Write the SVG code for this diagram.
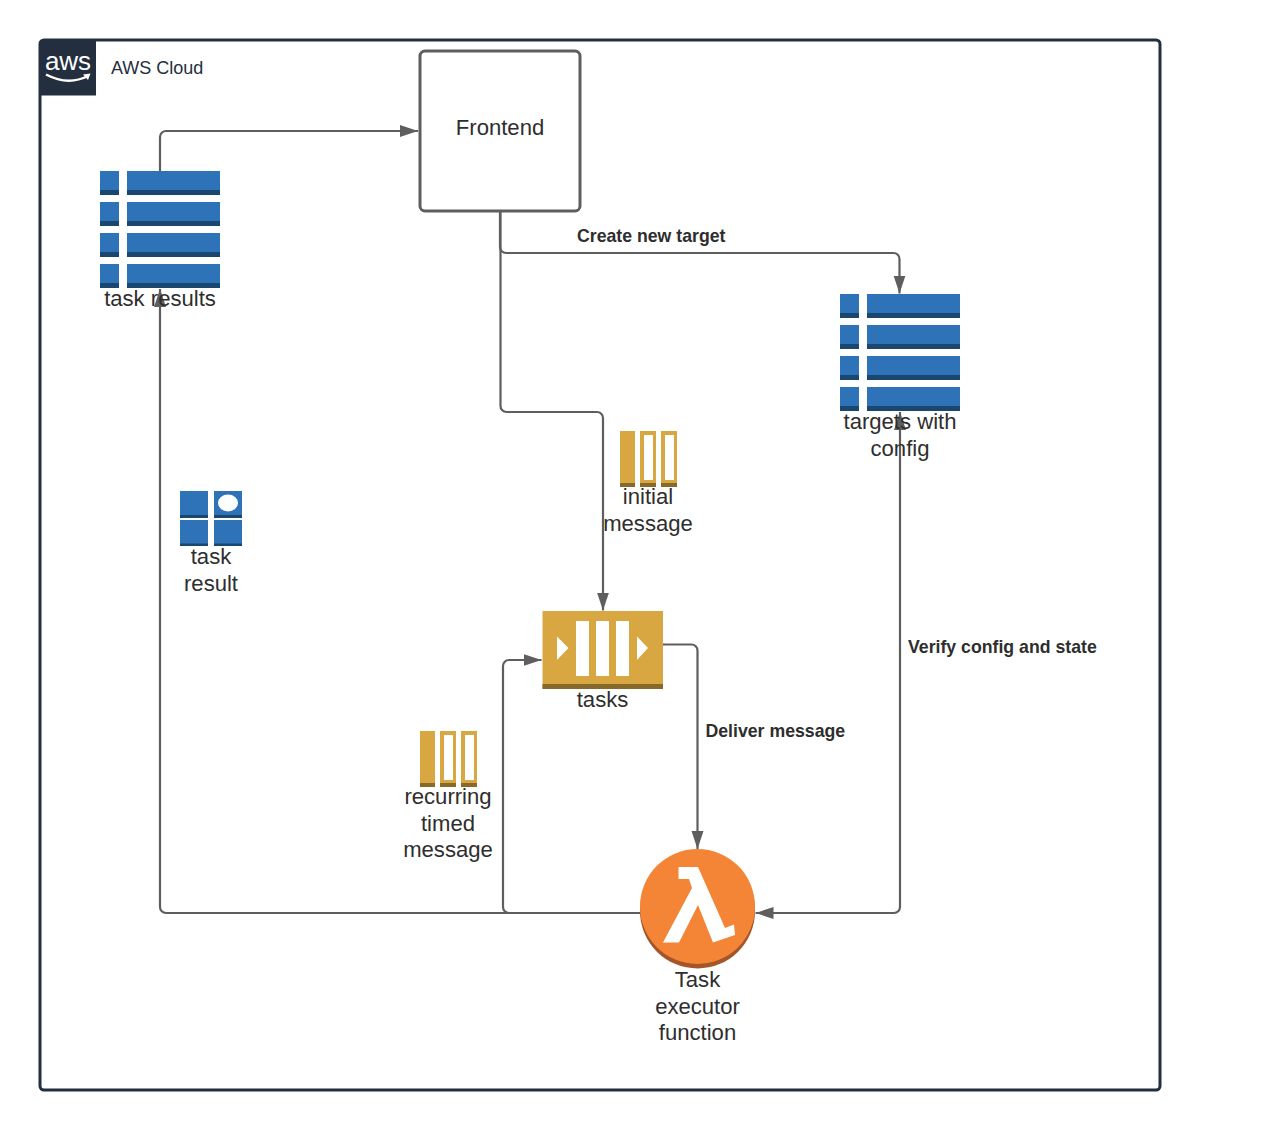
<svg xmlns="http://www.w3.org/2000/svg" xmlns:xlink="http://www.w3.org/1999/xlink" width="1271" height="1132" viewBox="0 0 1271 1132">
<style>
text{font-family:"Liberation Sans",Arial,sans-serif;fill:#2e2e2e}
.lbl{font-size:22.100px;text-anchor:middle}
.edge{font-size:17.700px;font-weight:700}
.conn{fill:none;stroke:#5e5e5e;stroke-width:2.200}
.blue{fill:#2e73b8}.dk{fill:#1a476f}
.gold{fill:#d9a741}.gdk{fill:#876929}
</style>
<defs>
<marker id="arr" markerUnits="userSpaceOnUse" markerWidth="20" markerHeight="14" refX="18" refY="7" orient="auto-start-reverse"><path d="M0 1L18 7L0 13L0 7Z" fill="#5e5e5e"/></marker>
<g id="row"><rect class="blue" width="19" height="24"/><rect class="dk" y="19" width="19" height="5"/><rect class="blue" x="27" width="93" height="24"/><rect class="dk" x="27" y="19" width="93" height="5"/></g>
<g id="table"><use href="#row"/><use href="#row" y="31"/><use href="#row" y="62"/><use href="#row" y="93"/></g>
<g id="msg"><rect class="gold" width="15" height="56"/><rect class="gdk" y="52" width="15" height="4"/>
<rect class="gold" x="20" width="16" height="56"/><rect x="24" y="4" width="9" height="45" fill="#fff"/><rect class="gdk" x="20" y="52" width="16" height="4"/>
<rect class="gold" x="41" width="16" height="56"/><rect x="45" y="4" width="9" height="45" fill="#fff"/><rect class="gdk" x="41" y="52" width="16" height="4"/></g>
</defs>
<rect width="1271" height="1132" fill="#fff"/>
<g id="aws-cloud">
<rect x="40" y="40" width="1120" height="1050" rx="4" fill="#fff" stroke="#232f3e" stroke-width="3"/>
<path d="M41 44a4 4 0 0 1 3-4H96V95.500H41Z" fill="#232f3e"/>
<text x="68" y="70" font-size="26" text-anchor="middle" style="fill:#fff">aws</text>
<path d="M46 74.500Q68 86 88 76" fill="none" stroke="#fff" stroke-width="2.500"/>
<path d="M83 74.500L90.500 73.500L88 80Z" fill="#fff"/>
<text x="111" y="74" font-size="18" style="fill:#232f3e">AWS Cloud</text>
</g>
<g id="task-results"><use href="#table" x="100" y="171"/></g>
<g id="targets"><use href="#table" x="840" y="294"/></g>
<g id="task-result">
<rect class="blue" x="180" y="491" width="28" height="27"/><rect class="dk" x="180" y="515" width="28" height="3"/>
<rect class="blue" x="214" y="491" width="28" height="27"/><rect class="dk" x="214" y="515" width="28" height="3"/>
<ellipse cx="228" cy="503" rx="10" ry="8.500" fill="#fff"/>
<rect class="blue" x="180" y="520" width="28" height="26"/><rect class="dk" x="180" y="543.500" width="28" height="2.500"/>
<rect class="blue" x="214" y="520" width="28" height="26"/><rect class="dk" x="214" y="543.500" width="28" height="2.500"/>
</g>
<g id="initial-message"><use href="#msg" x="620" y="431"/></g>
<g id="recurring-message"><use href="#msg" x="420" y="731"/></g>
<g id="tasks">
<rect class="gold" x="542.500" y="611" width="120.500" height="78"/><rect class="gdk" x="542.500" y="684" width="120.500" height="5"/>
<rect x="576" y="621" width="13" height="55" fill="#fff"/><rect x="596" y="621" width="13" height="55" fill="#fff"/><rect x="616" y="621" width="13" height="55" fill="#fff"/>
<path d="M557 636.500L568.500 648L557 660ZM637 636.500L648 648L637 660Z" fill="#fff"/>
</g>
<g id="lambda">
<circle cx="697.500" cy="911" r="57.500" fill="#a5552a"/>
<circle cx="697.500" cy="906.500" r="57.500" fill="#f58536"/>
<path d="M678.500 867H698L725 928L734 924.500L735 935L713 942.500L698 905L679 942.500H663L692 888L689 879H678.500Z" fill="#fff"/>
</g>
<g id="frontend">
<rect x="420" y="51" width="160" height="160" rx="5" fill="#fff" stroke="#5e5e5e" stroke-width="3"/>
</g>
<g id="connectors">
<path class="conn" marker-end="url(#arr)" d="M160 171V137a6 6 0 0 1 6-6H418"/>
<path class="conn" marker-end="url(#arr)" d="M500 211V247a6 6 0 0 0 6 6H893.500a6 6 0 0 1 6 6V293.500"/>
<path class="conn" marker-end="url(#arr)" d="M500.500 211V406a6 6 0 0 0 6 6H597a6 6 0 0 1 6 6V610.500"/>
<path class="conn" d="M663 644.500H691.500a6 6 0 0 1 6 6V849" marker-end="url(#arr)"/>
<path class="conn" marker-end="url(#arr)" d="M640 913H509a6 6 0 0 1-6-6V666a6 6 0 0 1 6-6H541.500"/>
<path class="conn" marker-end="url(#arr)" d="M640 913H166a6 6 0 0 1-6-6V289"/>
<path class="conn" marker-start="url(#arr)" marker-end="url(#arr)" d="M900 412V907a6 6 0 0 1-6 6H755.500"/>
<g>
<text class="edge" x="577" y="242">Create new target</text>
<text class="edge" x="908" y="653">Verify config and state</text>
<text class="edge" x="705.500" y="737">Deliver message</text>
</g>
</g>
<g id="labels">
<text x="500" y="134.500" font-size="22.100" text-anchor="middle">Frontend</text>
<text class="lbl" x="160" y="306">task results</text>
<text class="lbl" x="900" y="429">targets with</text><text class="lbl" x="900" y="455.500">config</text>
<text class="lbl" x="211" y="564">task</text><text class="lbl" x="211" y="591">result</text>
<text class="lbl" x="648" y="504">initial</text><text class="lbl" x="648" y="531">message</text>
<text class="lbl" x="602.500" y="707">tasks</text>
<text class="lbl" x="448" y="804">recurring</text><text class="lbl" x="448" y="831">timed</text><text class="lbl" x="448" y="857">message</text>
<text class="lbl" x="697.500" y="987">Task</text><text class="lbl" x="697.500" y="1013.500">executor</text><text class="lbl" x="697.500" y="1040">function</text>
</g>
</svg>
